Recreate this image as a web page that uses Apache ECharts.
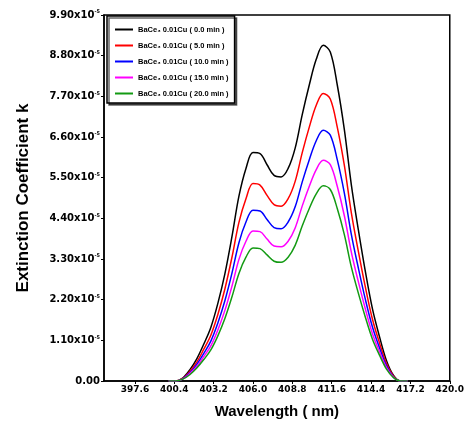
<!DOCTYPE html>
<html>
<head>
<meta charset="utf-8">
<script src="https://cdn.jsdelivr.net/npm/echarts@6/dist/echarts.min.js"></script>
<style>
  html, body { margin: 0; padding: 0; background: #fff; }
  #main { width: 467px; height: 431px; }
</style>
</head>
<body>
<div id="main"></div>
<script>
// wavelength (nm)
var wavelengths = [400.0, 400.5, 401.0, 401.5, 402.0, 402.5, 403.0, 403.5, 404.0, 404.5, 405.0, 405.5, 406.0, 406.5,
    407.0, 407.5, 408.0, 408.5, 409.0, 409.5, 410.0, 410.5, 411.0, 411.5, 412.0, 412.5, 413.0, 413.5,
    414.0, 414.5, 415.0, 415.5, 416.0, 416.5, 417.0];

// extinction coefficient k (x10^-5)
var k00 = [0, 0, 0.08, 0.3, 0.6, 1.0, 1.45, 2.1, 2.9, 3.9, 5.0, 5.75, 6.18, 6.15,
    5.85, 5.56, 5.52, 5.75, 6.3, 7.2, 8.0, 8.7, 9.08, 8.9, 8.0, 6.8, 5.3, 4.08,
    2.95, 1.95, 1.2, 0.55, 0.15, 0, 0];
var k05 = [0, 0, 0.07, 0.26, 0.51, 0.86, 1.24, 1.8, 2.49, 3.34, 4.29, 4.93, 5.34, 5.3,
    5.02, 4.77, 4.73, 4.93, 5.4, 6.17, 6.86, 7.46, 7.78, 7.63, 6.86, 5.83, 4.54, 3.5,
    2.53, 1.67, 1.03, 0.47, 0.13, 0, 0];
var k10 = [0, 0, 0.06, 0.22, 0.45, 0.75, 1.08, 1.57, 2.17, 2.91, 3.74, 4.3, 4.62, 4.6,
    4.37, 4.15, 4.12, 4.3, 4.71, 5.38, 5.98, 6.5, 6.78, 6.65, 5.98, 5.08, 3.96, 3.05,
    2.2, 1.46, 0.9, 0.41, 0.11, 0, 0];
var k15 = [0, 0, 0.05, 0.2, 0.39, 0.66, 0.95, 1.38, 1.91, 2.56, 3.29, 3.78, 4.06, 4.04,
    3.84, 3.65, 3.63, 3.78, 4.14, 4.73, 5.26, 5.72, 5.97, 5.85, 5.26, 4.47, 3.48, 2.68,
    1.94, 1.28, 0.79, 0.36, 0.1, 0, 0];
var k20 = [0, 0, 0.05, 0.17, 0.35, 0.58, 0.84, 1.22, 1.69, 2.27, 2.91, 3.35, 3.6, 3.58,
    3.41, 3.24, 3.21, 3.35, 3.67, 4.19, 4.66, 5.06, 5.28, 5.18, 4.66, 3.96, 3.08, 2.37,
    1.72, 1.13, 0.7, 0.32, 0.09, 0, 0];

var seriesNames = ['BaCe₃ 0.01Cu ( 0.0 min )', 'BaCe₃ 0.01Cu ( 5.0 min )', 'BaCe₃ 0.01Cu ( 10.0 min )',
    'BaCe₃ 0.01Cu ( 15.0 min )', 'BaCe₃ 0.01Cu ( 20.0 min )'];
var seriesColors = ['#000000', '#ff0000', '#0000ff', '#ff00ff', '#139a13'];

var xTicks = [397.6, 400.4, 403.2, 406.0, 408.8, 411.6, 414.4, 417.2, 420.0];

function pairs(ys) {
    var out = [];
    for (var i = 0; i < wavelengths.length; i++) {
        out.push([wavelengths[i], ys[i]]);
    }
    return out;
}

var allK = [k00, k05, k10, k15, k20];
var series = [];
for (var s = 0; s < allK.length; s++) {
    series.push({
        name: seriesNames[s],
        type: 'line',
        smooth: 0.35,
        symbol: 'none',
        lineStyle: { width: 1.5, color: seriesColors[s] },
        itemStyle: { color: seriesColors[s] },
        data: pairs(allK[s])
    });
}

var myChart = echarts.init(document.getElementById('main'));
var option = {
    animation: false,
    textStyle: { fontFamily: 'Liberation Sans, Arial, sans-serif' },
    grid: {
        left: 104, right: 13, top: 15, bottom: 50,
        show: true, borderColor: '#000', borderWidth: 1.5
    },
    legend: {
        orient: 'vertical',
        left: 107, top: 16,
        padding: [9, 6, 5, 8],
        itemWidth: 18, itemHeight: 2, itemGap: 7,
        icon: 'rect',
        borderColor: '#000', borderWidth: 1.5,
        backgroundColor: '#fff',
        shadowColor: 'rgba(0,0,0,0.6)', shadowBlur: 0,
        shadowOffsetX: 2, shadowOffsetY: 2,
        textStyle: { fontSize: 7.5, fontWeight: 'bold', color: '#000', lineHeight: 9 },
        data: seriesNames
    },
    xAxis: {
        type: 'value',
        min: 395.4, max: 420.0,
        name: 'Wavelength ( nm)',
        nameLocation: 'middle', nameGap: 23,
        nameTextStyle: { fontSize: 15, fontWeight: 'bold', color: '#000' },
        splitLine: { show: false },
        axisLine: { lineStyle: { color: '#000', width: 1.5 } },
        axisTick: { customValues: xTicks, length: 3, lineStyle: { color: '#000' } },
        axisLabel: {
            customValues: xTicks,
            fontFamily: 'DejaVu Sans', fontSize: 9, fontWeight: 'bold', color: '#000', margin: 4,
            formatter: function (v) { return v.toFixed(1); }
        }
    },
    yAxis: {
        type: 'value',
        min: 0, max: 9.9, interval: 1.1,
        name: 'Extinction Coefficient k',
        nameLocation: 'middle', nameGap: 72,
        nameTextStyle: { fontSize: 17, fontWeight: 'bold', color: '#000' },
        splitLine: { show: false },
        axisLine: { lineStyle: { color: '#000', width: 1.5 } },
        axisTick: { length: 3, lineStyle: { color: '#000' } },
        axisLabel: {
            fontFamily: 'DejaVu Sans', fontSize: 10, fontWeight: 'bold', color: '#000', margin: 4,
            formatter: function (v) {
                if (v === 0) return '0.00';
                return v.toFixed(2) + 'x10{sup|-5}';
            },
            rich: { sup: { fontFamily: 'DejaVu Sans', fontSize: 5, fontWeight: 'bold', color: '#000', verticalAlign: 'top', padding: [0, 0, 6, 0] } }
        }
    },
    series: series
};
myChart.setOption(option);
</script>
</body>
</html>
